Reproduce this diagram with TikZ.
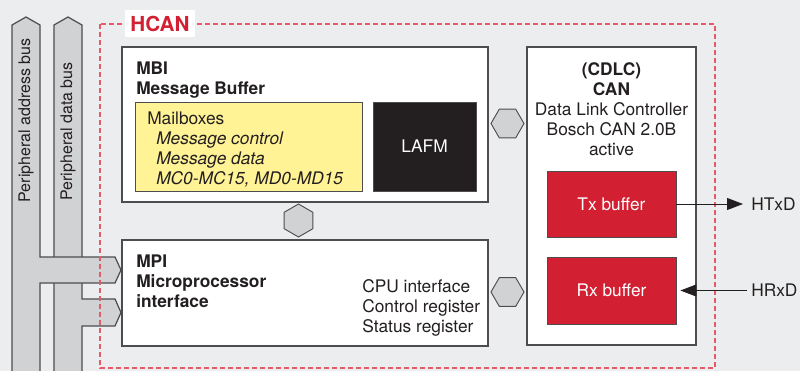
\documentclass[tikz,border=0pt]{standalone}
\usepackage{fontspec}
\setmainfont{TeX Gyre Heros}
\usetikzlibrary{arrows.meta,shapes.geometric}
\definecolor{bggray}{RGB}{236,237,238}
\definecolor{busgray}{RGB}{209,210,212}
\definecolor{linegray}{RGB}{77,77,79}
\definecolor{hcanred}{RGB}{210,32,50}
\definecolor{dashred}{RGB}{232,90,105}
\definecolor{mailyellow}{RGB}{255,243,150}
\definecolor{lafmblack}{RGB}{35,31,32}
\definecolor{txtdark}{RGB}{35,31,32}
\newcommand{\diafont}{\fontsize{13}{15}\selectfont}
\tikzset{
  blockbox/.style={draw=linegray,fill=white,line width=0.9pt,inner sep=0},
  bufbox/.style={draw=linegray,fill=hcanred,line width=0.6pt,text=white,inner sep=0,font=\diafont},
  hexnode/.style={regular polygon,regular polygon sides=6,draw=linegray,fill=busgray,line width=0.7pt,minimum size=24.75pt,inner sep=0},
  bus/.style={draw=linegray,fill=busgray,line width=0.9pt,line join=miter},
  txt/.style={inner sep=0,anchor=north west,align=left,font=\diafont,text=txtdark},
  sig/.style={draw=txtdark,line width=0.7pt,-{Triangle[length=12pt,width=9pt]}}
}
\begin{document}
\begin{tikzpicture}[x=0.75pt,y=-0.75pt]
\useasboundingbox (0,0) rectangle (800,371);
\fill[bggray] (0,0) rectangle (800,371);
%data bus
\draw[bus] (54,380) -- (54,25) -- (68,17) -- (82,25) -- (82,299) -- (115,299) -- (121,312.5) -- (115,326) -- (82,326) -- (82,380);
%address bus
\draw[bus] (12,380) -- (12,25) -- (26,17) -- (40,25) -- (40,257) -- (115,257) -- (121,270) -- (115,283) -- (40,283) -- (40,380);
\node[txt,anchor=center,rotate=90,font=\fontsize{12}{14}\selectfont] (addrbus) at (26,120.5) {Peripheral address bus};
\node[txt,anchor=center,rotate=90,font=\fontsize{12}{14}\selectfont] (databus) at (68,131.5) {Peripheral data bus};
%hcan frame
\draw[dashred,line width=0.8pt,dash pattern=on 3.5pt off 2.5pt] (100,24) rectangle (715,368);
\node[fill=white,text=hcanred,font=\bfseries\fontsize{15.5}{18}\selectfont,minimum width=52.5pt,minimum height=20pt,inner sep=0] (hcan) at (160,23.5) {HCAN};
%mbi
\node[blockbox,minimum width=274.5pt,minimum height=116.25pt] (mbi) at (305,124.5) {};
\node[txt,font=\bfseries\diafont] (mbititle) at (136,62) {MBI\\Message Buffer};
\node[draw=linegray,fill=mailyellow,line width=0.7pt,minimum width=170.25pt,minimum height=66.75pt,inner sep=0] (mail) at (248.5,146.5) {};
\node[txt] (mailtext) at (147,112) {Mailboxes\\
  \hspace*{6.75pt}\textit{Message control}\\
  \hspace*{6.75pt}\textit{Message data}\\
  \hspace*{6.75pt}\textit{MC0-MC15, MD0-MD15}};
\node[draw=linegray,fill=lafmblack,line width=0.7pt,text=white,font=\diafont,minimum width=77.25pt,minimum height=66.75pt,inner sep=0] (lafm) at (424.5,146.5) {LAFM};
%mpi
\node[blockbox,minimum width=274.5pt,minimum height=79.5pt] (mpi) at (305,293) {};
\node[txt,font=\bfseries\diafont] (mpititle) at (136,255) {MPI\\Microprocessor\\interface};
\node[txt] (mpiregs) at (362,279) {CPU interface\\Control register\\Status register};
%can
\node[blockbox,minimum width=126.75pt,minimum height=223.5pt] (can) at (611.5,196) {};
\node[txt,anchor=north,align=center] (cantitle) at (611.5,62) {\textbf{(CDLC)}\\\textbf{CAN}\\Data Link Controller\\Bosch CAN 2.0B\\active};
\node[bufbox,minimum width=96.75pt,minimum height=49.5pt] (tx) at (611.5,204) {Tx buffer};
\node[bufbox,minimum width=96.75pt,minimum height=50.25pt] (rx) at (611.5,290.5) {Rx buffer};
%hexagons
\node[hexnode,shape border rotate=30] (hexmbimpi) at (298.5,220.5) {};
\node[hexnode] (hexmbican) at (507.5,123.5) {};
\node[hexnode] (hexmpican) at (507.5,292) {};
%pins
\node[txt,anchor=west] (htxd) at (751,204) {HTxD};
\node[txt,anchor=west] (hrxd) at (751,290.5) {HRxD};
\draw[sig,shorten >=6pt] (tx) -- (htxd);
\draw[sig,shorten <=3pt,shorten >=3pt] (hrxd) -- (rx);
\end{tikzpicture}
\end{document}
